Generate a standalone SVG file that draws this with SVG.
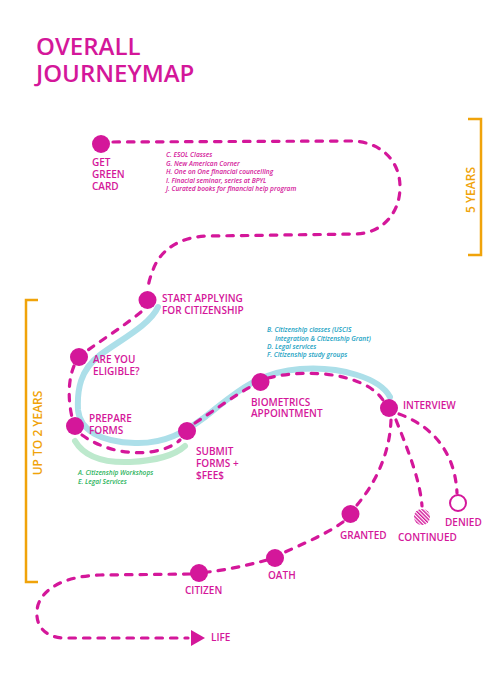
<svg xmlns="http://www.w3.org/2000/svg" width="497" height="699" viewBox="0 0 497 699">
<style>
.dash{fill:none;stroke:#d4179a;stroke-width:3.2;stroke-dasharray:6.5 8;stroke-linecap:round}
.node{fill:#d4179a}
.lbl{font-family:"Open Sans","Liberation Sans",sans-serif;font-weight:600;font-size:10px;fill:#d4179a}
.title{font-family:"Open Sans","Liberation Sans",sans-serif;font-weight:600;font-size:24px;fill:#d4179a}
.note{font-family:"Open Sans","Liberation Sans",sans-serif;font-style:italic;font-weight:600;font-size:6.6px}
.yr{font-family:"Open Sans","Liberation Sans",sans-serif;font-weight:600;font-size:12px;fill:#f0a30a}
.brk{fill:none;stroke:#f0a30a;stroke-width:2.5}
</style>
<defs>
<pattern id="hatch" patternUnits="userSpaceOnUse" width="2.6" height="2.6" patternTransform="rotate(-45)">
<rect x="0" y="0" width="1.4" height="2.6" fill="#d4179a"/>
</pattern>
</defs>
<rect width="497" height="699" fill="#ffffff"/>
<g id="title">
<text class="title" x="36" y="55">OVERALL</text>
<text class="title" x="36" y="82">JOURNEYMAP</text>
</g>
<g id="bands">
<path d="M158 307 C150 325 120 340 100 355 C80 370 77 390 78 410 C80 430 100 442 135 443 C165 444 185 432 205 417 C230 398 255 372 300 369 C340 366 380 378 390 397" fill="none" stroke="#acdfe9" stroke-width="6" stroke-linecap="round"/>
<path d="M75 441 C85 458 105 463 130 462 C155 461 175 455 185 446" fill="none" stroke="#bde9cd" stroke-width="6" stroke-linecap="round"/>
</g>
<g id="connectors">
<path class="dash" d="M113 142 L350 141 C380 141 400 160 400 187 C400 215 380 234 355 234 L210 236 C180 236 160 250 153 270 C149 280 148 286 148 290"/>
<path class="dash" d="M141 312 C125 325 105 338 88 350"/>
<path class="dash" d="M74 366 C68 380 68 400 72 417"/>
<path class="dash" d="M82 435 C100 448 125 455 150 452 C165 450 175 445 180 440"/>
<path class="dash" d="M195 423 C215 410 235 395 252 386"/>
<path class="dash" d="M268 378 C300 370 340 372 365 385 C375 390 380 396 383 400"/>
<path class="dash" d="M391 420 C390 450 378 480 357 505"/>
<path class="dash" d="M396 420 C408 450 420 480 422 506"/>
<path class="dash" d="M399 414 C430 425 455 450 457 493"/>
<path class="dash" d="M343 522 C325 535 300 545 283 553"/>
<path class="dash" d="M267 560 C245 566 225 570 208 572"/>
<path class="dash" d="M190 574 L100 575 C70 576 45 585 38 605 C33 625 45 638 65 638 L188 638"/>
<polygon points="191,630 205,638 191,646" fill="#d4179a"/>
</g>
<g id="n-greencard">
<circle class="node" cx="101" cy="144" r="9"/>
<text class="lbl" x="92" y="166">GET</text>
<text class="lbl" x="92" y="178">GREEN</text>
<text class="lbl" x="92" y="190">CARD</text>
</g>
<g id="notes-1">
<text class="note" fill="#d4179a" x="166" y="157">C. ESOL Classes</text>
<text class="note" fill="#d4179a" x="166" y="165.5">G. New American Corner</text>
<text class="note" fill="#d4179a" x="166" y="174">H. One on One financial councelling</text>
<text class="note" fill="#d4179a" x="166" y="182.5">I. Finacial seminar, series at BPYL</text>
<text class="note" fill="#d4179a" x="166" y="191">J. Curated books for financial help program</text>
</g>
<g id="n-start">
<circle class="node" cx="147.5" cy="300" r="9"/>
<text class="lbl" x="162" y="302">START APPLYING</text>
<text class="lbl" x="162" y="314">FOR CITIZENSHIP</text>
</g>
<g id="n-eligible">
<circle class="node" cx="79" cy="357" r="9"/>
<text class="lbl" x="93" y="363">ARE YOU</text>
<text class="lbl" x="93" y="375">ELIGIBLE?</text>
</g>
<g id="n-prepare">
<circle class="node" cx="75" cy="426" r="9"/>
<text class="lbl" x="89" y="422">PREPARE</text>
<text class="lbl" x="89" y="434">FORMS</text>
</g>
<g id="notes-2">
<text class="note" fill="#2bb35c" x="78" y="475">A. Citizenship Workshops</text>
<text class="note" fill="#2bb35c" x="78" y="483.5">E. Legal Services</text>
</g>
<g id="n-submit">
<circle class="node" cx="187" cy="431" r="9"/>
<text class="lbl" x="196" y="455">SUBMIT</text>
<text class="lbl" x="196" y="467">FORMS +</text>
<text class="lbl" x="196" y="479">$FEE$</text>
</g>
<g id="n-biometrics">
<circle class="node" cx="260.5" cy="382" r="9"/>
<text class="lbl" x="251" y="406">BIOMETRICS</text>
<text class="lbl" x="251" y="417">APPOINTMENT</text>
</g>
<g id="notes-3">
<text class="note" fill="#19a2c3" x="267" y="332">B. Citizenship classes (USCIS</text>
<text class="note" fill="#19a2c3" x="275" y="340.5">Integration &amp; Citizenship Grant)</text>
<text class="note" fill="#19a2c3" x="267" y="348.5">D. Legal services</text>
<text class="note" fill="#19a2c3" x="267" y="356.5">F. Citizenship study groups</text>
</g>
<g id="n-interview">
<circle class="node" cx="389" cy="408" r="9"/>
<text class="lbl" x="403" y="409">INTERVIEW</text>
</g>
<g id="n-granted">
<circle class="node" cx="350.5" cy="514" r="9"/>
<text class="lbl" x="340" y="539">GRANTED</text>
</g>
<g id="n-continued">
<circle cx="422" cy="517" r="8" fill="url(#hatch)"/>
<text class="lbl" x="398" y="541">CONTINUED</text>
</g>
<g id="n-denied">
<circle cx="458" cy="503" r="8" fill="#ffffff" stroke="#d4179a" stroke-width="2"/>
<text class="lbl" x="445" y="526">DENIED</text>
</g>
<g id="n-oath">
<circle class="node" cx="275" cy="558" r="9"/>
<text class="lbl" x="268" y="579">OATH</text>
</g>
<g id="n-citizen">
<circle class="node" cx="199" cy="573" r="9"/>
<text class="lbl" x="185" y="594">CITIZEN</text>
</g>
<g id="n-life">
<text class="lbl" x="211" y="641">LIFE</text>
</g>
<g id="timeline-5y">
<path class="brk" d="M468 119 H481 V255 H468"/>
<text class="yr" transform="translate(475 190) rotate(-90)" text-anchor="middle">5 YEARS</text>
</g>
<g id="timeline-2y">
<path class="brk" d="M38 300 H26 V582 H38"/>
<text class="yr" transform="translate(42 433) rotate(-90)" text-anchor="middle">UP TO 2 YEARS</text>
</g>
</svg>
